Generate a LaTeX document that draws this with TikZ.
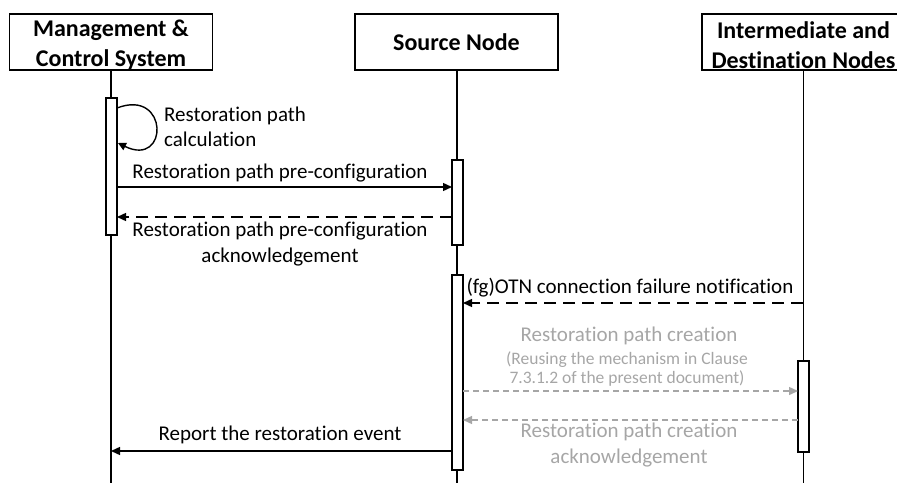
\documentclass[tikz,border=0pt]{standalone}
\usepackage{fontspec}
\setmainfont[Ligatures=NoCommon]{Carlito}
\usetikzlibrary{arrows.meta}
\definecolor{lgray}{HTML}{A6A6A6}
\begin{document}
\begin{tikzpicture}[x=1pt,y=-1pt,
  hdr/.style={draw,line width=1.6pt,minimum width=203pt,minimum height=56pt,align=center,font=\fontsize{24}{30}\selectfont\bfseries,inner sep=0pt},
  hdrtxt/.style={font=\fontsize{24}{30}\selectfont\bfseries,align=center,inner sep=0pt,yshift=-3pt},
  life/.style={line width=1.4pt},
  bar/.style={draw,line width=1.4pt,fill=white,minimum width=11pt,inner sep=0pt},
  msg/.style={line width=1.4pt,-{Triangle[length=9pt,width=8pt]}},
  ret/.style={msg,dash pattern=on 12pt off 7pt},
  gmsg/.style={line width=1.4pt,color=lgray,dash pattern=on 6pt off 4pt,-{Triangle[length=9pt,width=8pt]}},
  lbl/.style={font=\fontsize{21}{25.5}\selectfont,align=center,inner sep=0pt},
  glbl/.style={lbl,text=lgray},
  small/.style={font=\fontsize{17.5}{21.5}\selectfont}]
\clip (0,0) rectangle (897,482);
\useasboundingbox (0,0) rectangle (897,482);
% headers
\node[hdr,label={[hdrtxt]center:Management \&\\Control System}] (mcs) at (111,42) {};
\node[hdr] (src) at (456.5,42) {Source Node};
\node[hdr,label={[hdrtxt]center:Intermediate and\\Destination Nodes}] (dst) at (803.5,42) {};
% lifelines
\coordinate (mcsend) at (111,490);
\coordinate (srcend) at (457,490);
\coordinate (dstend) at (803.5,490);
\draw[life] (mcs.south) -- (mcsend);
\draw[life] (src.south -| srcend) -- (srcend);
\draw[life] (dst.south) -- (dstend);
% activation bars
\node[bar,minimum height=137pt] (b1) at (111.5,166.5) {};
\node[bar,minimum height=85pt] (b2) at (457.5,202.5) {};
\node[bar,minimum height=195pt] (b3) at (457.5,372.5) {};
\node[bar,minimum height=91pt] (b4) at (803.5,406.5) {};
% self loop
\coordinate (l1) at (117,108);
\coordinate (l2) at (118,143);
\draw[line width=1.4pt,-{Triangle[length=8pt,width=8pt]}] (l1) .. controls (169,88) and (169,168) .. (l2);
\node[lbl,anchor=west,align=left] (t0) at (164,127) {Restoration path\\calculation};
% messages
\coordinate (m1s) at (117,187);\coordinate (m1e) at (452,187);
\draw[msg] (m1s) -- (m1e);
\node[lbl] (t1) at (280,173) {Restoration path pre-configuration};
\coordinate (m2s) at (452,217);\coordinate (m2e) at (117,217);
\draw[ret] (m2s) -- (m2e);
\node[lbl] (t2) at (280,244) {Restoration path pre-configuration\\acknowledgement};
\coordinate (m3s) at (803,303);\coordinate (m3e) at (463,303);
\draw[ret] (m3s) -- (m3e);
\node[lbl] (t3) at (630,288) {(fg)OTN connection failure notification};
\coordinate (m4s) at (463,391);\coordinate (m4e) at (798,391);
\draw[gmsg] (m4s) -- (m4e);
\node[glbl] (t4) at (629,336) {Restoration path creation};
\node[glbl,small] (t4b) at (627,360) {(Reusing the mechanism in Clause};
\node[glbl,small] (t4c) at (627,379) {7.3.1.2 of the present document)};
\coordinate (m5s) at (798,420);\coordinate (m5e) at (463,420);
\draw[gmsg] (m5s) -- (m5e);
\node[glbl] (t5) at (629,445) {Restoration path creation\\acknowledgement};
\coordinate (m6s) at (452,451);\coordinate (m6e) at (111,451);
\draw[msg] (m6s) -- (m6e);
\node[lbl] (t6) at (280,435) {Report the restoration event};
\end{tikzpicture}
\end{document}
